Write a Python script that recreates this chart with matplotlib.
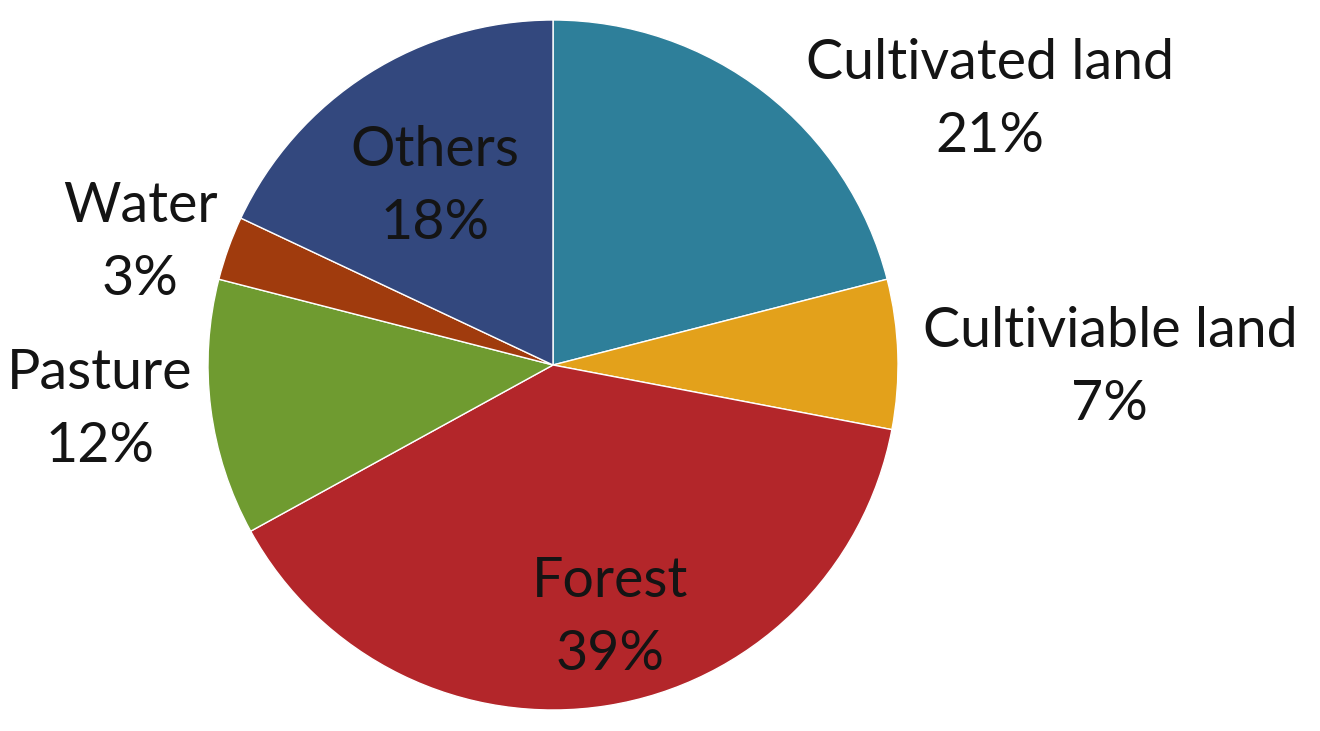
import matplotlib.pyplot as plt

plt.rcParams['font.family'] = ['Lato', 'DejaVu Sans']

labels = ['Cultivated land', 'Cultiviable land', 'Forest', 'Pasture', 'Water', 'Others']
shares = [21, 7, 39, 12, 3, 18]
colors = ['#2E7F9A', '#E3A11B', '#B3262A', '#6F9B30', '#A03B0D', '#33487E']
# label anchor points (pie radius = 1, centre at 0,0)
label_xy = [(1.267, 0.768), (1.614, -0.009), (0.165, -0.733), (-1.313, -0.130), (-1.197, 0.354), (-0.342, 0.516)]

fig = plt.figure(figsize=(13.2, 7.31), dpi=100)
ax = fig.add_axes([0, 0, 1, 1])
ax.pie(shares, colors=colors, startangle=90, counterclock=False,
       radius=1.0, wedgeprops=dict(edgecolor='white', linewidth=1.0))
for name, val, (x, y) in zip(labels, shares, label_xy):
    ax.text(x, y, '%s\n%d%%' % (name, val), ha='center', va='center',
            fontsize=40, color='#141414', linespacing=1.55)
ax.set_xlim(-553 / 345, (1320 - 553) / 345)
ax.set_ylim(-(731 - 365) / 345, 365 / 345)
ax.set_aspect('equal')
ax.axis('off')
fig.savefig('out.png', dpi=100)
